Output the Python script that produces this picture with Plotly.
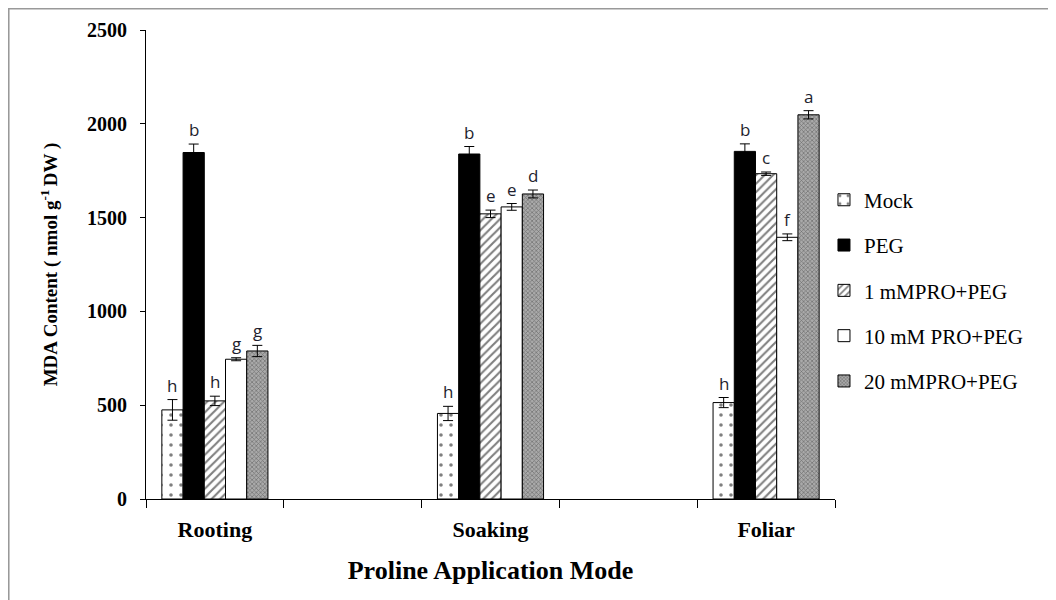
import plotly.graph_objects as go

# ---- data ----
categories = ["Rooting", " ", "Soaking", "  ", "Foliar"]
groups = ["Rooting", "Soaking", "Foliar"]
series_names = ["Mock", "PEG", "1 mMPRO+PEG", "10 mM PRO+PEG", "20 mMPRO+PEG"]

mock_vals = [475, 456, 514]
mock_err = [55, 38, 27]
peg_vals = [1847, 1839, 1853]
peg_err = [45, 40, 40]
pro1_vals = [523, 1520, 1734]
pro1_err = [25, 20, 9]
pro10_vals = [745, 1557, 1395]
pro10_err = [8, 18, 18]
pro20_vals = [789, 1626, 2048]
pro20_err = [30, 21, 22]

mock_letters = ["h", "h", "h"]
peg_letters = ["b", "b", "b"]
pro1_letters = ["h", "e", "c"]
pro10_letters = ["g", "e", "f"]
pro20_letters = ["g", "d", "a"]

y_ticks = [0, 500, 1000, 1500, 2000, 2500]

values = [mock_vals, peg_vals, pro1_vals, pro10_vals, pro20_vals]
errors = [mock_err, peg_err, pro1_err, pro10_err, pro20_err]
letters = [mock_letters, peg_letters, pro1_letters, pro10_letters, pro20_letters]

styles = [
    dict(color="white", pattern=dict(shape=".", fgcolor="black", bgcolor="white", size=10, solidity=0.1)),
    dict(color="black"),
    dict(color="white", pattern=dict(shape="/", fgcolor="black", bgcolor="white", size=6, solidity=0.35)),
    dict(color="white"),
    dict(color="#888888", pattern=dict(shape="x", fgcolor="#333333", bgcolor="#aaaaaa", size=3, solidity=0.4)),
]

BARGAP = 0.23
n = len(series_names)
bar_w = (1 - BARGAP) / n

fig = go.Figure()
for i, name in enumerate(series_names):
    fig.add_trace(go.Bar(
        name=name, x=groups, y=values[i],
        error_y=dict(type="data", array=errors[i], color="black", thickness=1, width=5),
        marker=dict(line=dict(color="black", width=1), **styles[i]),
        legendgroup=name,
    ))

annotations = []
for i in range(n):
    for j, g in enumerate(groups):
        idx = categories.index(g)
        annotations.append(dict(
            x=idx + (i - (n - 1) / 2) * bar_w, y=values[i][j] + errors[i][j],
            xref="x", yref="y", text=letters[i][j], showarrow=False,
            yanchor="bottom", yshift=1,
            font=dict(family="Open Sans", size=17, color="#1e1e2e"),
        ))

fig.update_layout(
    width=1056, height=600,
    margin=dict(l=138, r=229, t=22, b=109),
    paper_bgcolor="white", plot_bgcolor="white",
    barmode="group", bargap=BARGAP, bargroupgap=0,
    font=dict(family="Liberation Serif", color="black"),
    showlegend=True,
    legend=dict(x=0.984, y=0.681, xanchor="left", yanchor="top",
                font=dict(family="Liberation Serif", size=21, color="black"),
                tracegroupgap=15, bgcolor="rgba(0,0,0,0)"),
    annotations=annotations,
    shapes=[dict(type="rect", xref="paper", yref="paper",
                 x0=-138 / 689 + 0.0008, x1=1.5, y0=-0.5, y1=1 + 22 / 469 - 0.001,
                 line=dict(color="#999999", width=2), layer="below")],
)

fig.update_xaxes(
    type="category", categoryorder="array", categoryarray=categories,
    range=[-0.5, len(categories) - 0.5],
    tickson="boundaries", ticks="outside", ticklen=8, tickcolor="black",
    showline=True, linecolor="black", linewidth=1, showgrid=False,
    tickfont=dict(family="Liberation Serif", size=22, weight="bold", color="black"),
    ticklabelstandoff=11,
    title=dict(text="Proline Application Mode", standoff=19,
               font=dict(family="Liberation Serif", size=26, weight="bold", color="black")),
)
fig.update_yaxes(
    range=[0, 2500], tickvals=y_ticks, ticks="outside", ticklen=5, tickcolor="black",
    showline=True, linecolor="black", linewidth=1, showgrid=False, zeroline=False,
    tickfont=dict(family="Liberation Serif", size=20, weight="bold", color="black"),
    ticklabelstandoff=9,
    title=dict(text="MDA Content ( nmol g<sup>-1 </sup>DW )", standoff=24,
               font=dict(family="Liberation Serif", size=19, weight="bold", color="black")),
)

fig.write_html("out.html")
